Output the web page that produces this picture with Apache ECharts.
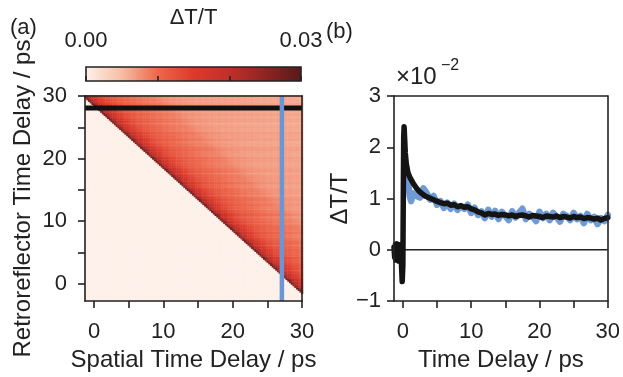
<!DOCTYPE html>
<html><head><meta charset="utf-8">
<script src="https://cdn.jsdelivr.net/npm/echarts@6/dist/echarts.min.js"></script>
<style>html,body{margin:0;padding:0;background:#fff}#c{width:623px;height:377px}</style>
</head><body><div id="c"></div>
<script>
const FONT = '"Liberation Sans", Arial, Helvetica, sans-serif';
const INK = '#222222';

// ---------- axis tick values ----------
const majorTicks = [0, 10, 20, 30];
const minorTicks = [0, 5, 10, 15, 20, 25, 30];
const colorbarTicks = [0, 1, 2, 3];          // x10^-2
const colorbarLabels = [0, 3];

// ---------- colormap (ΔT/T 0 .. 0.03) ----------
const colormap = ['#fdf2ec', '#f7bea5', '#ed684d', '#dc3a2b', '#c0302a', '#8f2422', '#561a1b'];

// ---------- panel (a): heat map ----------
// ΔT/T (x10^-2) vs pump-probe delay, sampled every 0.5 ps from 0 to 31.5 ps
const heatProfile = [2.6, 2.1, 1.8, 1.6, 1.45, 1.35, 1.27, 1.2, 1.15, 1.11,
  1.07, 1.04, 1.01, 0.98, 0.96, 0.94, 0.92, 0.9, 0.89, 0.88,
  0.86, 0.82, 0.79, 0.77, 0.75, 0.74, 0.73, 0.72, 0.71, 0.7,
  0.7, 0.69, 0.69, 0.69, 0.68, 0.68, 0.68, 0.67, 0.67, 0.67,
  0.67, 0.66, 0.66, 0.66, 0.66, 0.65, 0.65, 0.65, 0.65, 0.64,
  0.64, 0.64, 0.64, 0.63, 0.63, 0.63, 0.63, 0.62, 0.62, 0.62,
  0.62, 0.61, 0.61, 0.61];
const preZeroLevel = 0.02;
const zeroDelaySum = 28.5;      // spatial + retroreflector delay at time zero
// per-row gain (horizontal streaks), one value per 0.5 ps of retroreflector delay from -3 ps
const rowGain = [1.00,0.97,1.04,0.99,1.03,0.96,1.01,1.05,0.97,1.00,0.95,1.04,1.01,0.98,1.06,0.96,
  1.00,1.03,0.97,1.05,0.99,0.95,1.03,1.00,1.04,0.97,1.01,0.96,1.05,1.00,0.97,1.03,0.99,1.06,
  0.96,1.01,1.00,0.95,1.04,0.99,1.03,0.97,1.05,1.00,0.96,1.01,1.04,0.97,1.00,1.06,0.99,0.96,
  1.03,1.00,1.05,0.97,1.01,0.95,1.04,0.99,1.03,1.00,0.96,1.05,0.99,1.01];
const spatialGrid = { start: -1.25, step: 0.25, count: 126 };
const retroGrid = { start: -2.75, step: 0.25, count: 132 };
const retroCut = 28.1;     // black horizontal cut
const spatialCut = 27.1;   // blue vertical cut
const xRange = [-1.3, 30];
const yRangeA = [-2.8, 30];

// ---------- panel (b): traces (x10^-2) ----------
const blackT = [-1.3,-1.2,-1.1,-1.0,-0.9,-0.8,-0.7,-0.6,-0.5,-0.4,-0.3,-0.2,-0.1,0.0,0.06,0.12,0.18,0.25,0.35,0.5,0.75,
  1.0,1.25,1.5,1.75,2.0,2.25,2.5,2.75,3.0,3.25,3.5,3.75,4.0,4.25,4.5,4.75,5.0,5.5,6.0,6.5,7.0,7.5,8.0,8.5,9.0,9.5,
  10.0,10.5,11.0,11.5,12.0,12.5,13.0,13.5,14.0,14.5,15.0,15.5,16.0,16.5,17.0,17.5,18.0,18.5,19.0,19.5,
  20.0,20.5,21.0,21.5,22.0,22.5,23.0,23.5,24.0,24.5,25.0,25.5,26.0,26.5,27.0,27.5,28.0,28.5,29.0,29.5,30.0];
const blackV = [0.05,-0.15,0.1,-0.2,0.12,-0.18,0.08,-0.22,0.1,-0.1,0.05,-0.3,-0.62,-0.3,1.0,2.2,2.4,2.2,1.9,1.68,1.5,
  1.42,1.36,1.3,1.25,1.2,1.16,1.13,1.1,1.07,1.05,1.06,1.02,1.03,0.99,1.0,0.96,0.95,0.92,0.9,0.91,0.87,0.88,0.84,0.86,0.83,0.84,
  0.8,0.78,0.74,0.72,0.68,0.71,0.69,0.7,0.67,0.69,0.68,0.66,0.68,0.65,0.67,0.68,0.66,0.64,0.67,0.66,
  0.65,0.63,0.66,0.65,0.64,0.66,0.63,0.65,0.64,0.62,0.65,0.63,0.64,0.61,0.63,0.62,0.6,0.62,0.58,0.61,0.63];
const blueT = [0.6,1.0,1.2,1.5,2.0,2.5,3.0,3.5,4.0,4.5,5.0,5.5,6.0,6.5,7.0,7.5,8.0,8.5,9.0,9.5,
  10.0,10.5,11.0,11.5,12.0,12.5,13.0,13.5,14.0,14.5,15.0,15.5,16.0,16.5,17.0,17.5,18.0,18.5,19.0,19.5,
  20.0,20.5,21.0,21.5,22.0,22.5,23.0,23.5,24.0,24.5,25.0,25.5,26.0,26.5,27.0,27.5,28.0,28.5,29.0,29.5,30.0];
const blueV = [1.5,1.05,0.95,1.1,1.05,1.02,1.2,1.1,0.98,1.05,0.88,0.95,0.82,0.92,0.8,0.9,0.78,0.85,0.8,0.88,
  0.72,0.82,0.68,0.75,0.62,0.78,0.65,0.76,0.6,0.74,0.66,0.58,0.75,0.63,0.72,0.8,0.6,0.7,0.65,0.56,
  0.74,0.62,0.7,0.58,0.72,0.64,0.55,0.7,0.66,0.58,0.72,0.6,0.66,0.52,0.7,0.58,0.64,0.5,0.62,0.56,0.68];

// ---------- build data ----------
const heatData = [];
for (let i = 0; i < retroGrid.count; i++) {
  const y = retroGrid.start + i * retroGrid.step;
  const gi = Math.floor((y + 3) * 2);
  const g = rowGain[gi] !== undefined ? rowGain[gi] : 1;
  for (let j = 0; j < spatialGrid.count; j++) {
    const x = spatialGrid.start + j * spatialGrid.step;
    const d = x + y - zeroDelaySum;
    let v;
    if (d < -1e-9) v = preZeroLevel * g;
    else {
      const k = Math.min(heatProfile.length - 1, Math.floor(d * 2 + 1e-9));
      v = heatProfile[k] * g;
    }
    heatData.push([x, y, v]);
  }
}
const blackData = blackT.map((t, i) => [t, blackV[i]]);
const blueData = blueT.map((t, i) => [t, blueV[i]]);

const txt = (size) => ({ fontFamily: FONT, fontSize: size, color: INK });
const lineSty = { color: INK, width: 1.6 };

function mainX(gridIndex, name) {
  return {
    type: 'value', gridIndex, min: xRange[0], max: xRange[1], position: 'bottom', z: 10,
    axisLine: { show: true, onZero: false, lineStyle: lineSty },
    axisTick: { show: true, customValues: minorTicks, length: 7, lineStyle: lineSty },
    axisLabel: { customValues: majorTicks, margin: 20, ...txt(22) },
    splitLine: { show: false },
    name, nameLocation: 'middle', nameGap: 46, nameTextStyle: txt(24)
  };
}
function frameAxis(gridIndex, range, position) {
  return {
    type: 'value', gridIndex, min: range[0], max: range[1], position, z: 10,
    axisLine: { show: true, onZero: false, lineStyle: lineSty },
    axisTick: { show: false }, axisLabel: { show: false }, splitLine: { show: false }
  };
}

const chart = echarts.init(document.getElementById('c'), null, { renderer: 'canvas' });
chart.setOption({
  animation: false,
  backgroundColor: '#fff',
  grid: [
    { left: 85, top: 96, width: 217, height: 214 },
    { left: 394, top: 96, width: 217, height: 215 },
    { left: 86, top: 67, width: 215, height: 14 }
  ],
  xAxis: [
    mainX(0, 'Spatial Time Delay / ps'),
    frameAxis(0, xRange, 'top'),
    mainX(1, 'Time Delay / ps'),
    frameAxis(1, xRange, 'top'),
    {
      type: 'value', gridIndex: 2, min: 0, max: 3, position: 'top', z: 10,
      axisLine: { show: false },
      axisTick: { show: true, customValues: colorbarTicks, length: 5, lineStyle: lineSty },
      axisLabel: { customValues: colorbarLabels, margin: 15, formatter: v => (v / 100).toFixed(2), ...txt(22) },
      splitLine: { show: false },
      name: 'ΔT/T', nameLocation: 'middle', nameGap: 36, nameTextStyle: txt(22)
    }
  ],
  yAxis: [
    {
      type: 'value', gridIndex: 0, min: yRangeA[0], max: yRangeA[1], position: 'left', z: 10,
      axisLine: { show: true, onZero: false, lineStyle: lineSty },
      axisTick: { show: true, customValues: minorTicks, length: 7, lineStyle: lineSty },
      axisLabel: { customValues: majorTicks, margin: 18, ...txt(22) },
      splitLine: { show: false },
      name: 'Retroreflector Time Delay / ps', nameLocation: 'middle', nameGap: 50, nameTextStyle: txt(24)
    },
    frameAxis(0, yRangeA, 'right'),
    {
      type: 'value', gridIndex: 1, min: -1, max: 3, interval: 1, position: 'left', z: 10,
      axisLine: { show: true, onZero: false, lineStyle: lineSty },
      axisTick: { show: true, length: 7, lineStyle: lineSty },
      axisLabel: { margin: 13, formatter: v => v < 0 ? '\u2212' + Math.abs(v) : String(v), ...txt(22) },
      splitLine: { show: false },
      name: 'ΔT/T', nameLocation: 'middle', nameGap: 32, nameTextStyle: txt(24)
    },
    frameAxis(1, [-1, 3], 'right'),
    { type: 'value', gridIndex: 2, min: 0, max: 1, show: false }
  ],
  visualMap: [{
    type: 'continuous', show: false, min: 0, max: 3, dimension: 2, seriesIndex: 0,
    inRange: { color: colormap }
  }],
  series: [
    {
      type: 'custom', xAxisIndex: 0, yAxisIndex: 0, clip: true, data: heatData,
      renderItem(params, api) {
        const x = api.value(0), y = api.value(1);
        const p = api.coord([x - spatialGrid.step / 2, y + retroGrid.step / 2]);
        const s = api.size([spatialGrid.step, retroGrid.step]);
        return { type: 'rect', shape: { x: p[0], y: p[1], width: s[0] + 0.4, height: s[1] + 0.4 },
                 style: { fill: api.visual('color') } };
      }
    },
    {
      type: 'line', xAxisIndex: 0, yAxisIndex: 0, symbol: 'none', silent: true, z: 4,
      data: [[xRange[0], retroCut], [xRange[1], retroCut]],
      lineStyle: { color: '#111', width: 5 }
    },
    {
      type: 'line', xAxisIndex: 0, yAxisIndex: 0, symbol: 'none', silent: true, z: 5,
      data: [[spatialCut, yRangeA[0]], [spatialCut, yRangeA[1]]],
      lineStyle: { color: '#6b95d4', width: 4.5 }
    },
    {
      type: 'line', xAxisIndex: 2, yAxisIndex: 2, symbol: 'none', silent: true, z: 3,
      data: [[xRange[0], 0], [xRange[1], 0]],
      lineStyle: { color: INK, width: 1.5 }
    },
    {
      type: 'line', xAxisIndex: 2, yAxisIndex: 2, symbol: 'none', silent: true, z: 4,
      data: blueData, lineStyle: { color: '#6f9ad6', width: 6.5, join: 'round', cap: 'round' }
    },
    {
      type: 'line', xAxisIndex: 2, yAxisIndex: 2, symbol: 'none', silent: true, z: 5,
      data: blackData, lineStyle: { color: '#141414', width: 5.5, join: 'round', cap: 'round' }
    },
    {
      type: 'custom', xAxisIndex: 4, yAxisIndex: 4, data: [[0, 0]], silent: true,
      renderItem(params, api) {
        const p = api.coord([0, 1]);
        const s = api.size([3, 1]);
        const stops = colormap.map((c, i) => ({ offset: i / (colormap.length - 1), color: c }));
        return { type: 'rect', shape: { x: p[0], y: p[1], width: s[0], height: s[1] },
                 style: { fill: new echarts.graphic.LinearGradient(0, 0, 1, 0, stops), stroke: INK, lineWidth: 1.6 } };
      }
    }
  ],
  graphic: [
    { type: 'text', left: 10, top: 17, style: { text: '(a)', font: '22px ' + FONT, fill: INK } },
    { type: 'text', left: 326, top: 21, style: { text: '(b)', font: '22px ' + FONT, fill: INK } },
    { type: 'text', left: 396, top: 65, style: { text: '×10', font: '24px ' + FONT, fill: INK } },
    { type: 'text', left: 441, top: 58, style: { text: '\u22122', font: '16px ' + FONT, fill: INK } }
  ]
});
</script>
</body></html>
